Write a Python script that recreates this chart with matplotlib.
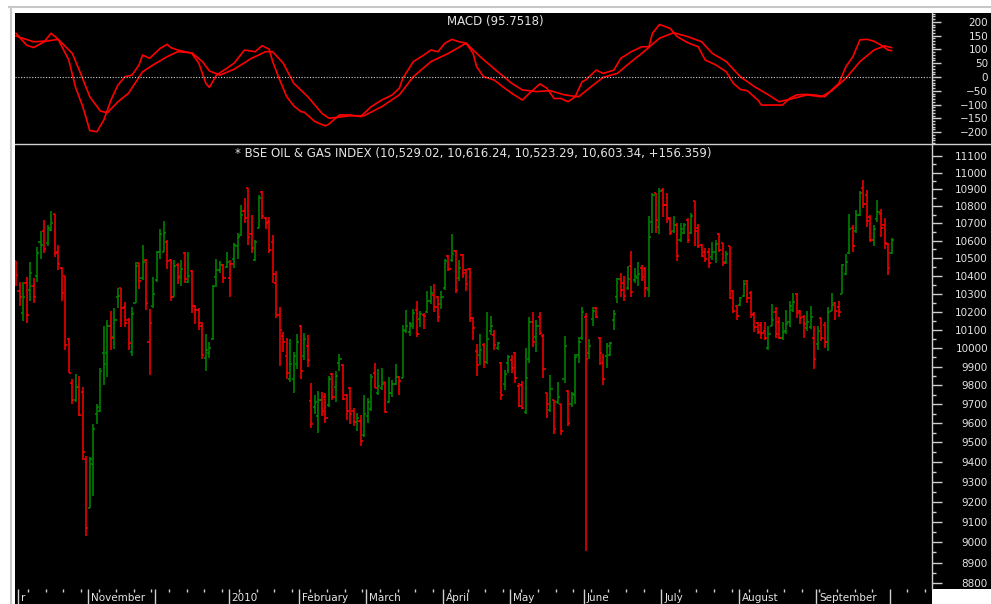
"""
BSE Oil & Gas index - daily OHLC bars with MACD panel (Oct 2009 - Sep 2010).
Writes out.png (991 x 604 px).
"""

import numpy as np
import matplotlib
matplotlib.use("Agg")
import matplotlib.pyplot as plt
import matplotlib.ticker as mticker
import matplotlib.transforms as mtransforms
from matplotlib.patches import Rectangle
from matplotlib.lines import Line2D

# ---------------------------------------------------------------------------
# Data (one entry per trading day)
# ---------------------------------------------------------------------------
opens = [
    10484, 10314, 10193, 10359, 10323, 10344, 10399, 10594, 10655, 10585,
    10664, 10758, 10535, 10444, 10399, 10048, 9814, 9720, 9792, 9763,
    9414, 9167, 9387, 9648, 9666, 9972, 9975, 10118, 10062, 10283,
    10331, 10223, 10154, 9981, 10250, 10471, 10385, 10489, 10035, 10229,
    10376, 10535, 10535, 10594, 10489, 10283, 10462, 10399, 10531, 10367,
    10426, 10232, 10211, 10118, 9945, 9972, 10048, 10391, 10435, 10462,
    10450, 10385, 10493, 10567, 10631, 10770, 10911, 10637, 10489, 10673,
    10885, 10729, 10709, 10594, 10359, 10181, 10066, 9957, 9831, 9831,
    9914, 10118, 9957, 10012, 9717, 9684, 9640, 9720, 9738, 9693,
    9860, 9792, 9921, 9909, 9747, 9783, 9666, 9607, 9612, 9538,
    9637, 9674, 9864, 9756, 9783, 9819, 9711, 9756, 9806, 9842,
    9837, 10091, 10087, 10118, 10211, 10158, 10181, 10197, 10256, 10292,
    10283, 10243, 10332, 10513, 10489, 10540, 10385, 10517, 10435, 10439,
    10163, 9985, 9963, 10017, 9927, 10091, 10071, 9999, 9918, 9806,
    9921, 9936, 9972, 9796, 9801, 9658, 9939, 10145, 10062, 10168,
    10066, 9761, 9670, 9720, 9711, 9699, 9832, 9771, 9702, 9747,
    9963, 10053, 10172, 9975, 10158, 10220, 10053, 9918, 9957, 9963,
    10154, 10283, 10380, 10358, 10332, 10457, 10376, 10385, 10444, 10439,
    10323, 10709, 10879, 10682, 10897, 10806, 10726, 10655, 10691, 10606,
    10646, 10722, 10646, 10830, 10672, 10576, 10536, 10536, 10508, 10536,
    10640, 10585, 10476, 10567, 10313, 10229, 10238, 10286, 10371, 10306,
    10184, 10136, 10127, 10091, 9999, 10118, 10198, 10145, 10057, 10091,
    10145, 10211, 10300, 10202, 10172, 10109, 10113, 10057, 10021, 10163,
    10127, 10032, 10202, 10247, 10223, 10300, 10408, 10531, 10672, 10658,
    10752, 10909, 10866, 10738, 10603, 10725, 10756, 10690, 10579, 10529.02,
]
highs = [
    10486, 10367, 10367, 10391, 10480, 10385, 10562, 10658, 10722, 10694,
    10770, 10758, 10576, 10450, 10399, 10053, 9831, 9860, 9851, 9788,
    9430, 9426, 9597, 9699, 9891, 10118, 10154, 10202, 10220, 10331,
    10331, 10252, 10163, 10225, 10480, 10475, 10576, 10494, 10216, 10391,
    10543, 10667, 10714, 10603, 10498, 10489, 10471, 10489, 10535, 10536,
    10432, 10238, 10220, 10140, 10077, 10032, 10349, 10494, 10484, 10468,
    10535, 10489, 10585, 10645, 10806, 10847, 10911, 10752, 10603, 10865,
    10888, 10740, 10740, 10631, 10426, 10223, 10088, 10053, 10048, 9981,
    10075, 10124, 10080, 10071, 9810, 9747, 9771, 9762, 9756, 9851,
    9867, 9878, 9968, 9914, 9751, 9788, 9679, 9652, 9643, 9747,
    9734, 9860, 9921, 9885, 9891, 9819, 9846, 9828, 9914, 9849,
    10124, 10211, 10140, 10214, 10256, 10205, 10193, 10313, 10344, 10353,
    10286, 10313, 10493, 10518, 10640, 10549, 10489, 10522, 10439, 10444,
    10168, 10021, 10075, 10026, 10197, 10176, 10097, 10035, 9927, 9882,
    9963, 9963, 9981, 9810, 9824, 10000, 10168, 10197, 10154, 10197,
    10077, 9761, 9855, 9720, 9819, 9702, 10066, 9774, 9765, 9968,
    10062, 10223, 10193, 10048, 10225, 10223, 10059, 9968, 10026, 10035,
    10207, 10385, 10417, 10399, 10453, 10544, 10444, 10480, 10462, 10450,
    10744, 10876, 10879, 10911, 10906, 10876, 10740, 10744, 10703, 10700,
    10700, 10729, 10761, 10834, 10699, 10579, 10561, 10561, 10594, 10603,
    10646, 10588, 10540, 10570, 10322, 10238, 10283, 10376, 10376, 10313,
    10198, 10145, 10145, 10145, 10123, 10241, 10223, 10172, 10145, 10211,
    10256, 10301, 10306, 10211, 10181, 10205, 10229, 10123, 10118, 10166,
    10141, 10223, 10301, 10252, 10256, 10466, 10522, 10756, 10694, 10779,
    10892, 10955, 10897, 10749, 10694, 10838, 10785, 10734, 10585, 10616.24,
]
lows = [
    10341, 10229, 10150, 10136, 10256, 10250, 10364, 10498, 10527, 10567,
    10655, 10508, 10432, 10261, 9990, 9864, 9699, 9711, 9637, 9412,
    9027, 9167, 9226, 9598, 9660, 9801, 9842, 9990, 9996, 10220,
    10115, 10115, 9987, 9959, 10247, 10328, 10376, 10207, 9855, 10220,
    10364, 10498, 10535, 10439, 10256, 10283, 10355, 10341, 10358, 10358,
    10193, 10132, 10096, 9939, 9878, 9948, 10041, 10337, 10414, 10358,
    10444, 10279, 10444, 10493, 10628, 10703, 10576, 10527, 10486, 10673,
    10725, 10667, 10527, 10362, 10163, 9905, 9981, 9831, 9819, 9756,
    9885, 9831, 9936, 9900, 9574, 9648, 9547, 9640, 9601, 9684,
    9724, 9711, 9878, 9724, 9619, 9598, 9586, 9561, 9480, 9529,
    9601, 9663, 9783, 9747, 9774, 9652, 9706, 9735, 9801, 9747,
    9837, 10082, 10066, 10104, 10059, 10115, 10106, 10193, 10243, 10197,
    10145, 10214, 10323, 10426, 10480, 10301, 10368, 10385, 10314, 10145,
    10044, 9850, 9909, 9891, 9912, 10071, 9987, 9987, 9720, 9774,
    9864, 9864, 9810, 9684, 9675, 9646, 9921, 10008, 9981, 10071,
    9837, 9625, 9660, 9543, 9699, 9538, 9814, 9586, 9684, 9699,
    9921, 10044, 8955, 9939, 10122, 10163, 9909, 9801, 9891, 9957,
    10100, 10250, 10283, 10256, 10323, 10279, 10362, 10344, 10368, 10283,
    10283, 10646, 10646, 10637, 10735, 10700, 10631, 10646, 10486, 10594,
    10637, 10589, 10637, 10572, 10561, 10508, 10476, 10444, 10489, 10471,
    10536, 10453, 10466, 10270, 10193, 10154, 10229, 10283, 10247, 10163,
    10087, 10075, 10050, 10044, 9990, 10118, 10053, 10050, 10044, 10075,
    10113, 10198, 10163, 10131, 10057, 10095, 10106, 9887, 9990, 10039,
    9999, 9985, 10202, 10154, 10172, 10299, 10405, 10525, 10536, 10646,
    10743, 10788, 10681, 10590, 10567, 10708, 10619, 10554, 10405, 10523.29,
]
closes = [
    10405, 10279, 10283, 10181, 10417, 10279, 10527, 10576, 10554, 10673,
    10700, 10531, 10466, 10305, 10017, 9867, 9720, 9792, 9642, 9453,
    9067, 9414, 9568, 9684, 9878, 9914, 10122, 10053, 10154, 10286,
    10220, 10136, 10030, 10184, 10453, 10373, 10480, 10250, 10136, 10297,
    10536, 10637, 10646, 10486, 10283, 10458, 10385, 10439, 10383, 10399,
    10232, 10207, 10136, 9962, 9987, 9999, 10344, 10435, 10462, 10385,
    10480, 10468, 10576, 10619, 10752, 10734, 10619, 10558, 10590, 10849,
    10744, 10703, 10549, 10412, 10181, 10097, 10032, 9867, 9914, 9957,
    10032, 9878, 10048, 9936, 9594, 9711, 9720, 9666, 9626, 9832,
    9735, 9850, 9939, 9729, 9666, 9648, 9607, 9625, 9507, 9648,
    9711, 9846, 9783, 9794, 9804, 9657, 9760, 9806, 9846, 9824,
    10097, 10118, 10133, 10193, 10075, 10184, 10177, 10256, 10305, 10225,
    10172, 10279, 10484, 10439, 10522, 10323, 10444, 10417, 10353, 10167,
    10109, 9909, 9990, 9927, 10048, 10118, 10017, 10026, 9747, 9860,
    9950, 9891, 9837, 9688, 9681, 9837, 10145, 10035, 10118, 10080,
    9885, 9699, 9778, 9568, 9735, 9561, 10009, 9601, 9753, 9954,
    10035, 10197, 9939, 10012, 10202, 10168, 9972, 9832, 10009, 10026,
    10186, 10380, 10323, 10286, 10380, 10308, 10399, 10408, 10391, 10332,
    10624, 10865, 10722, 10888, 10806, 10729, 10646, 10691, 10510, 10667,
    10691, 10603, 10743, 10658, 10572, 10513, 10498, 10471, 10536, 10579,
    10549, 10471, 10525, 10277, 10205, 10177, 10277, 10353, 10274, 10181,
    10113, 10087, 10080, 10057, 10075, 10154, 10075, 10057, 10087, 10131,
    10229, 10252, 10193, 10166, 10131, 10145, 10172, 9941, 10091, 10053,
    10035, 10198, 10234, 10202, 10198, 10462, 10480, 10669, 10567, 10752,
    10879, 10815, 10712, 10603, 10669, 10767, 10676, 10585, 10447, 10603.34,
]
PREV_CLOSE = 10450.0      # close of the day before the first bar

# MACD panel (bar index, value)
macd_idx = [0, 3, 5, 8, 10, 12, 15, 17, 19, 21,
            23, 25, 27, 29, 31, 33, 35, 36, 38, 41,
            43, 44, 46, 48, 50, 52, 54, 55, 57, 60,
            62, 65, 68, 70, 72, 73, 75, 77, 79, 81,
            82, 85, 88, 89, 92, 95, 98, 101, 104, 107,
            109, 110, 113, 116, 118, 120, 122, 124, 126, 128,
            130, 131, 133, 136, 139, 141, 144, 146, 149, 151,
            153, 155, 157, 159, 161, 162, 165, 167, 170, 172,
            175, 178, 180, 181, 183, 186, 188, 191, 194, 196,
            199, 202, 204, 206, 208, 211, 212, 218, 220, 222,
            225, 228, 230, 232, 234, 236, 238, 240, 242, 244,
            246, 248, 249]
macd_val = [159, 116, 107, 128, 159, 137, 62, -40, -108, -195,
            -199, -156, -84, -29, 1, 7, 44, 80, 68, 104,
            119, 107, 98, 92, 86, 50, -23, -38, 7, 32,
            50, 98, 92, 114, 101, 56, -11, -72, -105, -126,
            -128, -162, -178, -171, -138, -138, -144, -108, -84, -65,
            -41, -5, 56, 80, 98, 92, 123, 137, 128, 123,
            86, 37, 1, -11, -41, -59, -84, -59, -25, -41,
            -78, -78, -90, -72, -17, -11, 25, 13, 25, 68,
            92, 110, 110, 159, 191, 177, 147, 125, 110, 62,
            44, 19, -23, -45, -50, -84, -102, -102, -78, -65,
            -63, -67, -72, -47, -23, 37, 74, 135, 137, 130,
            116, 98, 95.75]
signal_idx = [0, 5, 9, 12, 16, 18, 21, 24, 26, 29,
              32, 36, 39, 43, 46, 50, 53, 55, 58, 62,
              67, 71, 73, 76, 79, 83, 87, 89, 95, 99,
              104, 109, 113, 118, 123, 128, 132, 137, 141, 144,
              148, 152, 156, 160, 163, 167, 171, 175, 178, 183,
              187, 191, 195, 198, 202, 206, 210, 214, 217, 221,
              225, 229, 232, 236, 240, 244, 247, 249]
signal_val = [149, 128, 131, 137, 86, 25, -72, -124, -130, -90,
              -59, 19, 44, 74, 92, 88, 56, 22, 7, 28,
              68, 92, 92, 50, -23, -72, -132, -150, -141, -141,
              -108, -65, 1, 56, 86, 123, 74, 19, -23, -47,
              -53, -50, -65, -72, -41, -1, 13, 56, 86, 141,
              161, 147, 128, 86, 56, 1, -35, -65, -90, -78,
              -65, -72, -50, -5, 56, 98, 113, 107]

# month boundaries (bar index) and their labels
month_pos = [0.5, 20.5, 39.5, 60.5, 80.5, 99.5, 121.5, 140.5, 161.5,
             183.5, 205.5, 227.5, 248.5]
month_lbl = ["r", "November", "", "2010", "February", "March", "April",
             "May", "June", "July", "August", "September", ""]

price_ticks = list(range(8800, 11101, 100))
price_minor = list(range(8850, 11100, 100))
macd_ticks = list(range(-200, 201, 50))

TITLE_MACD = "MACD (95.7518)"
TITLE_MAIN = ("* BSE OIL & GAS INDEX (10,529.02, 10,616.24, 10,523.29, "
              "10,603.34, +156.359)")

# ---------------------------------------------------------------------------
# Colours / layout (pixel geometry of the 991 x 604 canvas)
# ---------------------------------------------------------------------------
W, H = 991, 604
UP, DOWN = "#008a00", "#ff0000"
TXT = "#e4e4e4"
AXC = "#cfcfcf"
FONT = "DejaVu Sans"


def fx(px):
    return px / W


def fy(py):
    return 1 - py / H


idx = np.arange(len(closes))
prev = np.r_[PREV_CLOSE, closes[:-1]]
cols = np.where(np.array(closes) >= prev, UP, DOWN)

fig = plt.figure(figsize=(W / 100, H / 100), dpi=100, facecolor="white")

# black chart area (incl. right label column and date strip)
fig.add_artist(Rectangle((fx(15), fy(589)), fx(991) - fx(15), (589 - 13) / H,
                         transform=fig.transFigure, facecolor="black",
                         edgecolor="none", zorder=-2))
fig.add_artist(Rectangle((fx(15), 0), fx(932) - fx(15), (604 - 589) / H,
                         transform=fig.transFigure, facecolor="black",
                         edgecolor="none", zorder=-2))

ax_m = fig.add_axes([fx(15), fy(144), fx(932) - fx(15), (144 - 13) / H])
ax_p = fig.add_axes([fx(15), fy(589), fx(932) - fx(15), (589 - 145) / H])

XMIN, XMAX = -0.28, 260.5
pad_pt = 46 / (100 / 72)

for ax in (ax_m, ax_p):
    ax.set_facecolor("black")
    ax.set_xlim(XMIN, XMAX)
    for side in ("top", "left", "bottom"):
        ax.spines[side].set_visible(False)
    ax.spines["right"].set_color(AXC)
    ax.spines["right"].set_linewidth(1.0)
    ax.yaxis.tick_right()

# ---------------------------------------------------------------------------
# MACD panel
# ---------------------------------------------------------------------------
ax_m.plot(macd_idx, macd_val, color="#ff0000", lw=1.2)
ax_m.plot(signal_idx, signal_val, color="#ff0000", lw=1.2)
ax_m.axhline(0, color=AXC, lw=0.8, ls=(0, (1, 1.5)))
ax_m.set_ylim(-243.6, 232.7)
ax_m.yaxis.set_major_locator(mticker.FixedLocator(macd_ticks))
ax_m.yaxis.set_minor_locator(mticker.MultipleLocator(10))
ax_m.tick_params(axis="y", which="major", length=6.5, width=1, color=AXC,
                 labelcolor=TXT, labelsize=7.5, pad=pad_pt + 0.8)
ax_m.tick_params(axis="y", which="minor", length=2.5, width=1, color=AXC)
ax_m.tick_params(axis="x", which="both", bottom=False, labelbottom=False)
for t in ax_m.get_yticklabels():
    t.set_horizontalalignment("right")
    t.set_fontfamily(FONT)
ax_m.text(0.5, fy(22), TITLE_MACD, transform=fig.transFigure, ha="center",
          va="center", color=TXT, fontsize=8.5, family=FONT)

# ---------------------------------------------------------------------------
# Price panel (OHLC bars, log scale)
# ---------------------------------------------------------------------------
ax_p.vlines(idx, lows, highs, colors=cols, lw=1.1)
ax_p.hlines(opens, idx - 0.6, idx, colors=cols, lw=1.1)
ax_p.hlines(closes, idx, idx + 0.6, colors=cols, lw=1.1)

ax_p.set_yscale("log")
ax_p.set_ylim(8773, 11166)
ax_p.yaxis.set_major_locator(mticker.FixedLocator(price_ticks))
ax_p.yaxis.set_major_formatter(mticker.FuncFormatter(lambda v, p: f"{v:.0f}"))
ax_p.yaxis.set_minor_locator(mticker.FixedLocator(price_minor))
ax_p.yaxis.set_minor_formatter(mticker.NullFormatter())
ax_p.tick_params(axis="y", which="major", length=7.2, width=1, color=AXC,
                 labelcolor=TXT, labelsize=7.5, pad=pad_pt)
ax_p.tick_params(axis="y", which="minor", length=2.9, width=1, color=AXC)
for t in ax_p.get_yticklabels():
    t.set_horizontalalignment("right")
    t.set_fontfamily(FONT)

# date strip: month boundary lines, weekly ticks, month names
ax_p.xaxis.set_major_locator(mticker.FixedLocator(month_pos))
ax_p.xaxis.set_minor_locator(mticker.MultipleLocator(5, offset=3.5))
ax_p.tick_params(axis="x", which="major", direction="out", length=10.8,
                 width=1, color=AXC, labelbottom=False)
ax_p.tick_params(axis="x", which="minor", direction="out", length=2.2,
                 width=1, color=AXC)

strip = mtransforms.blended_transform_factory(ax_p.transData, ax_p.transAxes)
shift = mtransforms.ScaledTranslation(3 / 100, 0, fig.dpi_scale_trans)
for pos, lbl in zip(month_pos, month_lbl):
    if lbl:
        ax_p.text(pos, -9 / 444, lbl, transform=strip + shift, ha="left",
                  va="center", color=TXT, fontsize=7.5, family=FONT,
                  clip_on=False)

ax_p.text(fx(473), fy(153), TITLE_MAIN, transform=fig.transFigure,
          ha="center", va="center", color=TXT, fontsize=8.5, family=FONT)

# ---------------------------------------------------------------------------
# Frame lines
# ---------------------------------------------------------------------------
fig.add_artist(Line2D([fx(15), fx(991)], [fy(144), fy(144)],
                      transform=fig.transFigure, color=AXC, lw=1.0, zorder=5))
fig.add_artist(Line2D([fx(9), fx(991)], [fy(6.5), fy(6.5)],
                      transform=fig.transFigure, color="#c8c8c8", lw=1.5))
fig.add_artist(Line2D([fx(10.5), fx(10.5)], [fy(6.5), 0],
                      transform=fig.transFigure, color="#c8c8c8", lw=1.5))

fig.savefig("out.png", dpi=100, facecolor="white")
